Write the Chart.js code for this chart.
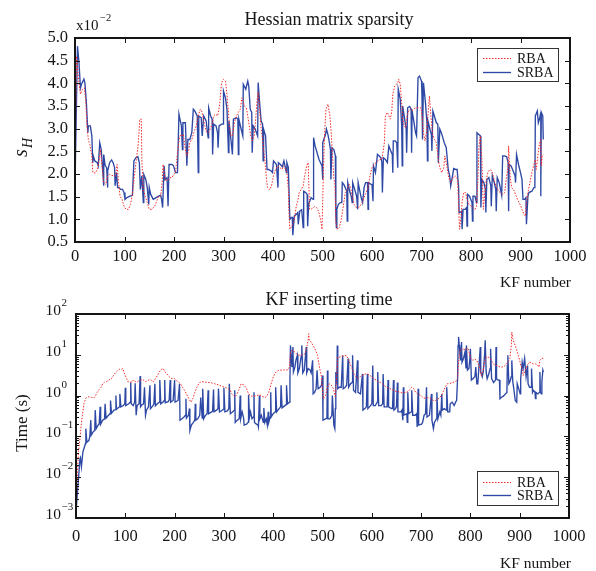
<!DOCTYPE html>
<html>
<head>
<meta charset="utf-8">
<script src="https://cdn.jsdelivr.net/npm/chart.js@4.4.1/dist/chart.umd.min.js"></script>
<style>
  body { margin: 0; background: #fff; }
  #wrap { position: relative; width: 596px; height: 571px; }
  canvas { position: absolute; left: 0; }
  #sparsity { top: 0; }
  #kftime { top: 290px; }
</style>
</head>
<body>
<div id="wrap">
  <canvas id="sparsity" width="596" height="290"></canvas>
  <canvas id="kftime" width="596" height="281"></canvas>
</div>
<script>
// [KF number, value] pairs

// Hessian sparsity (x10^-2)
const sparsityRba = [
  [0,1.90],[3,4.60],[8,4.01],[11,3.76],[15,3.87],[19,3.90],[22,3.57],[24,3.06],[27,2.76],[30,2.65],
  [34,2.40],[36,2.03],[41,2.02],[45,2.10],[49,2.32],[51,2.54],[54,2.25],[58,1.81],[62,1.77],[66,1.96],
  [70,1.99],[74,1.97],[78,1.96],[82,1.96],[85,2.21],[88,1.81],[91,1.51],[95,1.44],[99,1.29],[103,1.22],
  [108,1.22],[112,1.33],[116,1.55],[120,1.96],[124,2.32],[128,2.69],[131,3.21],[134,3.21],[135,2.32],[138,1.66],
  [142,1.51],[146,1.37],[150,1.22],[155,1.22],[161,1.29],[165,1.40],[169,1.51],[173,1.51],[176,1.81],[178,2.21],
  [181,1.96],[184,1.85],[188,1.88],[192,1.92],[196,1.92],[199,1.99],[203,2.03],[207,2.47],[211,2.80],[214,2.87],
  [216,2.84],[219,2.87],[223,2.54],[226,2.40],[230,2.54],[232,2.69],[236,2.76],[240,2.91],[245,3.06],[249,3.28],
  [253,3.43],[256,3.39],[260,3.17],[265,2.94],[269,2.91],[273,2.99],[277,3.10],[280,3.28],[284,3.32],[288,3.28],
  [292,3.50],[296,4.01],[300,4.09],[304,4.05],[307,3.76],[310,3.36],[312,3.06],[315,2.84],[318,2.84],[322,3.13],
  [326,3.28],[330,3.36],[334,3.43],[337,3.68],[339,3.65],[342,3.50],[346,3.46],[349,3.28],[353,2.99],[355,2.84],
  [358,2.73],[362,2.84],[365,3.21],[368,3.65],[370,3.80],[373,3.43],[376,2.99],[379,2.76],[381,2.54],[384,2.25],
  [387,1.88],[389,1.70],[393,1.65],[397,1.74],[401,1.96],[405,2.10],[410,2.18],[414,2.14],[418,2.10],[422,2.18],
  [426,2.10],[428,2.03],[431,1.66],[432,1.22],[434,0.78],[438,0.85],[442,0.93],[445,1.15],[447,1.29],[450,1.40],
  [453,1.59],[457,1.66],[461,1.74],[464,1.96],[468,2.18],[471,2.25],[474,1.22],[477,1.22],[484,1.28],[488,1.26],
  [492,1.18],[496,1.00],[499,0.78],[502,2.10],[504,2.84],[507,3.43],[511,3.54],[515,3.28],[518,2.84],[521,2.25],
  [523,1.88],[525,1.81],[527,0.93],[530,0.78],[534,0.82],[538,1.00],[542,1.29],[546,1.59],[550,1.66],[554,1.77],
  [557,1.70],[560,1.51],[564,1.33],[568,1.26],[572,1.26],[576,1.29],[580,1.37],[584,1.48],[588,1.59],[592,1.70],
  [596,1.96],[600,2.14],[604,2.21],[608,2.25],[612,2.29],[616,2.32],[620,2.32],[625,2.69],[627,3.28],[631,3.36],
  [634,3.28],[637,3.21],[640,3.39],[642,3.76],[646,3.94],[649,3.98],[652,4.01],[654,4.09],[657,3.98],[660,3.57],
  [662,3.21],[665,3.06],[668,3.02],[671,3.28],[674,3.39],[677,3.43],[680,3.39],[684,3.43],[688,3.46],[691,3.46],
  [695,3.46],[699,3.46],[701,3.28],[704,2.91],[707,2.73],[711,2.99],[714,3.43],[716,3.72],[719,3.28],[722,2.91],
  [726,2.76],[730,2.69],[734,2.32],[737,2.14],[741,2.03],[745,2.14],[747,2.40],[750,2.25],[755,1.92],[759,1.81],
  [764,1.92],[768,1.96],[773,1.88],[776,1.00],[777,0.78],[780,1.07],[782,1.37],[785,1.59],[789,1.59],[792,1.44],
  [796,1.33],[800,1.29],[804,1.26],[808,1.22],[811,1.29],[814,1.88],[816,2.62],[819,2.84],[822,2.32],[825,1.22],
  [828,1.59],[831,1.88],[834,2.03],[838,2.10],[842,2.07],[845,1.96],[848,1.81],[852,1.70],[856,1.62],[859,1.59],
  [864,1.55],[868,1.59],[872,1.96],[875,2.14],[876,2.62],[879,1.96],[882,1.70],[886,1.66],[890,1.55],[894,1.44],
  [899,1.33],[903,1.22],[907,1.11],[910,1.07],[912,1.37],[915,1.59],[919,1.81],[923,2.03],[927,2.21],[930,2.32],
  [932,2.10],[935,2.40],[938,2.65],[941,2.76],[942,2.18],[944,2.40],[947,2.43]
];

const sparsitySrba = [
  [0,1.73],[5,4.82],[8,4.46],[11,3.90],[13,3.98],[18,4.09],[20,4.01],[23,3.57],[26,2.91],[27,3.06],
  [31,3.06],[34,2.84],[36,2.25],[37,2.40],[40,2.29],[45,2.25],[47,2.18],[50,2.69],[53,2.54],[55,2.25],
  [58,1.74],[58,2.43],[61,2.18],[64,2.14],[66,1.70],[66,2.07],[70,2.25],[74,2.31],[77,2.25],[80,2.14],
  [81,1.74],[84,2.03],[86,1.70],[89,1.70],[92,1.66],[96,1.66],[99,1.59],[101,1.44],[105,1.48],[111,1.51],
  [116,1.53],[119,2.29],[123,2.36],[127,2.38],[130,2.25],[132,1.66],[135,1.96],[138,1.37],[139,1.99],[143,1.88],
  [146,1.70],[149,1.33],[150,1.70],[153,1.55],[158,1.44],[164,1.48],[169,1.51],[173,1.53],[175,1.44],[177,1.26],
  [180,2.18],[182,1.88],[186,1.92],[188,1.29],[190,2.21],[196,2.21],[199,2.18],[203,2.03],[207,2.03],[210,3.32],
  [212,3.21],[215,3.06],[217,2.54],[218,3.13],[223,3.13],[226,2.18],[228,2.76],[232,2.76],[236,2.91],[239,3.43],
  [242,3.39],[247,3.28],[249,2.03],[250,3.28],[255,3.24],[257,2.84],[260,3.28],[265,3.17],[269,2.80],[270,3.46],
  [274,3.28],[277,3.21],[278,2.43],[280,3.10],[285,3.06],[288,2.91],[289,2.58],[291,3.06],[296,3.10],[299,3.10],
  [300,3.83],[304,3.68],[307,3.43],[310,2.47],[311,3.17],[315,2.76],[318,2.43],[320,3.21],[326,3.24],[329,3.21],
  [330,2.43],[331,3.21],[335,3.02],[339,2.84],[340,3.98],[345,3.87],[349,4.05],[351,3.94],[354,3.43],[357,3.36],
  [358,2.47],[360,3.06],[364,2.99],[369,2.84],[370,4.02],[373,3.57],[376,3.17],[379,3.10],[380,2.29],[381,2.99],
  [385,2.84],[388,2.10],[391,2.10],[396,2.07],[399,2.03],[401,2.29],[404,2.25],[407,2.21],[410,1.70],[411,2.25],
  [415,2.21],[419,2.16],[422,2.29],[425,2.14],[427,2.03],[428,2.25],[431,2.14],[434,1.00],[437,1.04],[439,1.04],
  [440,0.65],[443,1.07],[447,1.11],[450,1.15],[451,0.89],[454,1.18],[458,1.21],[461,0.82],[462,1.62],[466,1.59],
  [469,1.55],[470,0.85],[472,1.33],[477,1.48],[481,1.44],[482,2.80],[485,2.62],[488,2.51],[490,2.43],[493,2.32],
  [496,2.25],[499,2.18],[500,1.88],[501,2.69],[506,2.87],[508,2.99],[511,2.87],[514,2.69],[516,2.54],[517,1.88],
  [519,2.58],[523,2.54],[526,2.40],[527,1.11],[528,0.82],[529,1.22],[532,1.33],[536,1.37],[539,1.37],[540,1.81],
  [543,1.77],[546,1.70],[549,1.62],[550,0.96],[551,1.81],[555,1.62],[558,1.51],[560,1.37],[561,1.81],[565,1.66],
  [569,1.51],[571,1.22],[572,1.81],[576,1.59],[579,1.44],[581,1.37],[584,1.70],[587,1.81],[591,1.81],[592,1.22],
  [593,1.81],[598,1.77],[600,1.77],[602,1.40],[603,2.18],[607,2.03],[611,2.43],[614,2.40],[618,2.36],[620,2.25],
  [621,1.59],[623,2.36],[627,2.32],[631,2.25],[634,2.62],[638,2.51],[641,2.43],[642,2.03],[643,2.73],[647,2.73],
  [650,2.69],[652,2.14],[653,3.87],[657,3.65],[660,3.06],[661,2.18],[662,3.50],[666,3.21],[669,2.99],[670,2.47],
  [672,3.46],[676,3.49],[679,3.43],[680,2.47],[681,3.39],[685,3.13],[688,2.91],[690,2.84],[693,4.13],[696,4.16],
  [700,4.05],[701,3.72],[702,2.76],[704,4.01],[708,3.57],[711,3.13],[712,2.29],[713,3.17],[717,2.99],[720,2.87],
  [721,2.51],[723,3.39],[727,3.24],[730,3.13],[733,3.10],[734,2.25],[737,2.99],[740,2.91],[742,2.84],[746,2.69],
  [750,2.58],[754,2.10],[757,1.96],[759,1.74],[762,1.92],[765,2.12],[769,2.10],[772,2.10],[775,1.70],[776,1.15],
  [779,1.16],[781,1.18],[782,0.78],[784,1.22],[788,1.22],[791,1.26],[792,0.85],[793,1.55],[797,1.51],[802,1.37],
  [803,0.96],[804,1.51],[808,1.51],[811,1.37],[812,2.91],[816,2.87],[819,2.84],[820,1.26],[822,1.88],[826,1.81],
  [829,1.66],[830,1.15],[832,1.88],[836,1.92],[840,1.74],[841,1.29],[843,1.96],[847,1.81],[850,1.66],[851,1.18],
  [853,1.92],[857,1.81],[859,1.70],[862,1.53],[864,2.40],[868,2.40],[872,2.38],[875,2.25],[876,1.18],[877,2.21],
  [881,2.18],[885,2.07],[889,1.96],[890,1.81],[892,2.43],[896,2.21],[900,2.03],[903,1.88],[905,1.44],[908,1.44],
  [911,1.48],[912,0.89],[915,1.51],[917,1.59],[923,1.62],[927,1.70],[929,1.70],[930,3.28],[934,3.39],[936,3.13],
  [939,3.24],[941,3.36],[941,1.51],[942,3.36],[945,3.28],[946,2.76]
];

// KF inserting time (s)
const timeRba = [
  [0,0.0014],[3,0.013],[5,0.042],[8,0.087],[11,0.22],[14,0.40],[16,0.63],[20,0.87],[26,0.94],[31,0.91],
  [37,0.89],[39,0.97],[43,1.2],[47,1.4],[51,1.6],[54,1.95],[58,2.15],[62,2.2],[66,2.33],[69,2.6],
  [72,2.6],[74,2.9],[77,3.2],[80,3.6],[84,4.0],[88,4.4],[92,4.4],[95,4.6],[97,3.8],[100,3.1],
  [103,2.6],[105,2.2],[110,2.15],[114,2.15],[116,2.4],[120,2.2],[124,2.15],[128,2.33],[133,2.45],[137,2.4],
  [141,2.2],[145,2.33],[149,2.45],[153,2.4],[157,2.15],[161,2.6],[165,3.1],[169,3.8],[173,4.4],[177,4.6],
  [180,3.9],[184,3.4],[188,3.0],[192,2.7],[196,2.6],[200,2.6],[204,2.33],[208,2.15],[212,1.95],[216,1.6],
  [220,1.35],[224,1.1],[229,0.84],[233,0.69],[237,0.84],[241,1.2],[245,1.6],[249,1.95],[252,2.15],[256,2.2],
  [261,2.15],[268,2.1],[275,2.05],[281,1.95],[288,1.85],[295,1.7],[302,1.6],[309,1.48],[313,1.35],[316,1.1],
  [322,0.93],[326,1.05],[330,1.35],[335,1.95],[341,1.8],[346,1.48],[350,1.1],[356,0.97],[361,0.97],[367,1.0],
  [372,1.05],[377,0.97],[383,0.89],[387,0.97],[391,1.2],[395,1.8],[399,2.6],[403,3.4],[407,3.9],[412,4.2],
  [418,4.2],[423,4.3],[429,4.25],[433,5.0],[435,11.7],[438,12.9],[444,11.7],[449,10.0],[455,9.7],[460,10.0],
  [465,10.7],[471,22.6],[472,33],[473,22.6],[477,20.5],[481,17],[486,12.9],[490,9.7],[492,6.6],[495,4.2],
  [498,2.9],[500,1.2],[502,0.84],[506,1.0],[510,1.6],[514,1.95],[518,1.8],[522,1.48],[526,0.93],[529,3.1],
  [531,8.8],[535,8.8],[539,9.3],[544,9.3],[548,9.7],[552,8.1],[556,6.0],[560,4.6],[564,3.4],[568,2.9],
  [572,2.6],[576,2.9],[580,3.1],[584,3.3],[588,3.4],[592,3.4],[596,3.1],[600,2.9],[604,2.6],[609,2.4],
  [613,2.15],[617,2.1],[621,1.95],[625,1.8],[629,1.6],[633,1.55],[637,1.48],[641,1.4],[645,1.35],[649,1.26],
  [653,1.26],[657,1.2],[661,1.17],[665,1.2],[670,1.2],[674,1.26],[677,1.4],[681,1.6],[685,1.48],[689,1.2],
  [693,1.1],[697,1.05],[701,0.97],[705,0.87],[709,0.87],[713,0.89],[717,0.87],[721,0.81],[725,0.76],[729,0.76],
  [733,0.81],[737,0.87],[741,1.0],[745,1.26],[749,1.6],[753,1.95],[757,1.95],[764,2.1],[770,2.2],[774,2.6],
  [776,6.6],[779,12.9],[783,14.1],[787,13.6],[791,13.6],[795,14.7],[798,10.7],[801,8.1],[805,7.3],[809,7.8],
  [813,7.3],[817,5.5],[820,4.2],[822,3.1],[825,3.8],[829,6.6],[832,8.8],[836,8.8],[840,8.1],[844,6.9],
  [848,5.7],[852,5.5],[856,5.3],[860,5.0],[864,5.0],[868,5.2],[872,5.7],[876,6.6],[880,8.1],[883,17],
  [884,36],[886,25],[888,20.5],[891,17],[894,12.9],[897,9.7],[900,7.3],[902,5.5],[905,4.6],[907,3.1],
  [910,3.8],[913,4.6],[916,5.7],[920,6.6],[924,6.3],[928,6.0],[932,6.0],[936,5.7],[939,5.0],[941,7.3],
  [945,8.3],[948,8.1]
];

const timeSrba = [
  [0,0.0014],[3,0.0044],[5,0.009],[8,0.028],[9,0.030],[11,0.018],[14,0.042],[16,0.050],[19,0.066],[20,0.155],
  [22,0.072],[26,0.079],[28,0.098],[30,0.25],[31,0.107],[35,0.13],[38,0.14],[39,0.44],[41,0.155],[45,0.19],
  [47,0.20],[49,0.53],[50,0.20],[54,0.25],[58,0.27],[59,0.63],[61,0.28],[65,0.32],[69,0.36],[70,0.76],
  [72,0.37],[77,0.44],[80,0.455],[81,1.0],[82,0.46],[88,0.53],[89,1.1],[91,0.53],[96,0.57],[99,0.63],
  [100,1.55],[101,0.57],[107,0.63],[110,0.69],[111,2.1],[112,0.63],[116,0.57],[119,0.69],[120,2.0],[122,0.33],
  [124,0.57],[128,0.63],[130,3.0],[131,0.53],[134,0.60],[137,0.63],[139,1.6],[141,0.33],[143,0.44],[147,0.53],
  [150,1.8],[151,0.48],[156,0.57],[158,0.63],[160,1.95],[161,0.56],[165,0.63],[169,0.69],[170,2.4],[172,0.63],
  [176,0.69],[179,0.76],[180,2.4],[181,0.67],[187,0.71],[189,0.78],[191,2.4],[192,0.69],[197,0.76],[200,2.4],
  [201,0.69],[207,0.76],[210,1.95],[211,0.25],[215,0.27],[219,0.30],[222,0.33],[223,0.84],[224,0.28],[228,0.33],
  [230,0.48],[231,0.14],[234,0.19],[238,0.22],[241,0.25],[242,0.63],[243,0.25],[247,0.27],[251,0.33],[253,0.9],
  [256,0.28],[257,1.48],[259,0.27],[262,0.32],[266,0.36],[268,1.35],[269,0.36],[275,0.40],[277,0.41],[279,1.4],
  [280,0.40],[285,0.44],[288,0.48],[289,1.48],[291,0.40],[296,0.43],[299,0.46],[300,1.55],[302,0.40],[307,0.42],
  [310,0.48],[311,1.95],[313,0.36],[318,0.40],[321,0.44],[322,1.35],[323,0.22],[327,0.25],[331,0.27],[333,1.0],
  [334,0.27],[337,0.40],[340,0.28],[341,0.19],[346,0.20],[349,0.22],[350,1.05],[352,0.30],[354,0.40],[357,0.27],
  [360,0.30],[361,1.2],[362,0.22],[366,0.20],[369,0.19],[370,0.17],[372,1.0],[373,0.27],[376,0.33],[380,0.22],
  [381,0.50],[383,0.22],[386,0.27],[388,0.19],[390,0.40],[391,0.22],[394,0.30],[395,1.2],[396,0.30],[400,0.36],
  [404,0.40],[405,1.6],[407,0.40],[412,0.48],[415,0.53],[416,1.8],[418,0.50],[423,0.56],[426,0.60],[427,1.8],
  [429,0.63],[433,0.69],[434,2.6],[435,17],[437,7.3],[438,5.0],[440,15.5],[441,3.8],[444,5.0],[446,7.3],
  [449,9.7],[450,3.6],[453,4.6],[457,9.7],[458,17],[460,3.6],[463,4.2],[465,8.1],[467,15.5],[468,3.6],
  [471,4.6],[475,4.2],[477,3.6],[480,7.3],[481,1.1],[484,1.2],[487,1.48],[489,4.2],[491,1.48],[495,1.6],
  [498,1.8],[500,3.1],[501,0.25],[504,0.26],[509,0.28],[510,4.1],[511,0.27],[515,0.27],[519,0.33],[520,1.0],
  [523,0.19],[525,0.155],[526,0.48],[527,3.8],[529,1.95],[530,17],[531,1.48],[534,1.6],[538,1.6],[541,9.7],
  [542,1.48],[546,1.6],[549,1.8],[552,8.1],[553,1.6],[557,1.95],[560,2.1],[561,9.7],[563,1.35],[567,1.2],
  [571,7.3],[572,1.2],[577,1.1],[581,3.4],[582,0.44],[586,0.48],[589,0.53],[591,3.4],[592,0.48],[597,0.56],
  [600,0.63],[602,5.5],[603,0.57],[607,0.57],[611,0.69],[612,3.8],[614,0.57],[619,0.57],[622,0.63],[623,3.4],
  [625,0.53],[631,0.53],[633,2.4],[634,0.53],[640,0.48],[642,0.48],[644,2.4],[645,0.44],[648,0.48],[650,0.53],
  [652,2.1],[653,0.40],[659,0.40],[661,0.44],[663,0.25],[664,1.6],[665,0.33],[671,0.36],[672,0.22],[673,1.2],
  [675,0.36],[680,0.40],[681,1.35],[683,0.33],[688,0.33],[691,0.36],[692,0.17],[694,1.48],[695,0.19],[701,0.20],
  [703,0.22],[706,0.33],[709,0.36],[711,1.6],[712,0.30],[717,0.33],[721,1.1],[722,0.25],[725,0.155],[727,0.22],
  [731,0.27],[732,1.2],[734,0.27],[738,0.40],[740,0.33],[742,1.1],[743,0.44],[747,0.48],[751,0.44],[752,1.6],
  [754,0.40],[758,0.40],[759,0.63],[763,0.69],[767,0.57],[770,0.69],[772,0.76],[774,2.6],[775,17],[776,27.5],
  [778,14.1],[780,7.3],[781,17],[782,20.5],[783,6.6],[786,8.1],[789,11.7],[791,4.6],[792,17],[794,4.2],
  [797,4.6],[799,8.1],[800,14.1],[802,2.4],[805,2.6],[809,2.9],[811,5.0],[813,1.95],[815,1.95],[818,6.6],
  [820,15.5],[821,3.8],[824,2.9],[826,3.8],[829,10.7],[830,22.6],[832,3.8],[834,2.6],[837,3.3],[840,4.6],
  [841,14.1],[843,2.6],[847,2.1],[851,2.4],[852,15.5],[853,2.6],[856,2.4],[859,2.4],[860,0.84],[863,0.91],
  [867,0.97],[871,1.1],[874,1.2],[875,5.5],[876,9.7],[878,1.95],[880,2.15],[883,2.9],[884,7.3],[886,2.15],
  [888,1.48],[891,0.76],[894,0.69],[895,1.95],[898,1.48],[901,1.1],[902,2.6],[905,6.6],[907,4.6],[910,8.1],
  [913,2.9],[916,5.5],[917,1.95],[920,1.6],[923,1.6],[924,4.6],[926,1.2],[928,1.35],[931,1.2],[932,0.84],
  [933,1.2],[937,1.1],[940,1.2],[941,3.8],[942,1.2],[944,1.1],[945,2.15],[947,4.2],[948,3.8]
];

const seriesNames = ['RBA', 'SRBA'];
const kfTicks = { min: 0, max: 1000, step: 100 };
const sparsityTicks = { min: 0.5, max: 5.0, step: 0.5 };
const timeDecades = [-3, -2, -1, 0, 1, 2];

const RED = 'rgb(245, 40, 40)';
const BLUE = 'rgb(45, 72, 165)';
const INK = '#151515';
const SERIF = '"Liberation Serif", "Times New Roman", serif';

function pts(pairs) {
    return pairs.map(p => ({ x: p[0], y: p[1] }));
}

function say(ctx, s, x, y, size, align, style) {
    ctx.font = (style || '') + ' ' + size + 'px ' + SERIF;
    ctx.textAlign = align || 'left';
    ctx.textBaseline = 'alphabetic';
    ctx.fillStyle = INK;
    ctx.fillText(s, x, y);
}

// box, inward ticks, legend and the texts MATLAB puts around the axes
const framePlugin = {
    id: 'frame',
    afterDatasetsDraw(chart, args, o) {
        const { ctx, chartArea: a, scales } = chart;
        const xs = scales.x, ys = scales.y;
        ctx.save();

        ctx.strokeStyle = INK;
        ctx.lineWidth = 1;
        ctx.beginPath();
        xs.ticks.forEach(t => {
            const px = Math.round(xs.getPixelForValue(t.value)) + 0.5;
            ctx.moveTo(px, a.bottom); ctx.lineTo(px, a.bottom - 5);
            ctx.moveTo(px, a.top); ctx.lineTo(px, a.top + 5);
        });
        if (o.log) {
            timeDecades.forEach((e, i) => {
                const steps = i < timeDecades.length - 1 ? 9 : 1;
                for (let m = 1; m <= steps; m++) {
                    const py = Math.round(ys.getPixelForValue(m * Math.pow(10, e))) + 0.5;
                    const len = m === 1 ? 5 : 3;
                    ctx.moveTo(a.left, py); ctx.lineTo(a.left + len, py);
                    ctx.moveTo(a.right, py); ctx.lineTo(a.right - len, py);
                }
            });
        } else {
            ys.ticks.forEach(t => {
                const py = Math.round(ys.getPixelForValue(t.value)) + 0.5;
                ctx.moveTo(a.left, py); ctx.lineTo(a.left + 5, py);
                ctx.moveTo(a.right, py); ctx.lineTo(a.right - 5, py);
            });
        }
        ctx.stroke();

        ctx.lineWidth = 2;
        ctx.strokeRect(a.left, a.top, a.right - a.left, a.bottom - a.top);

        // legend
        const L = o.legend;
        ctx.fillStyle = '#fff';
        ctx.fillRect(L.x, L.y, L.w, L.h);
        ctx.lineWidth = 1;
        ctx.strokeStyle = '#333';
        ctx.strokeRect(L.x + 0.5, L.y + 0.5, L.w, L.h);
        chart.data.datasets.forEach((ds, i) => {
            const ly = L.rows[i] + 0.5;
            ctx.beginPath();
            ctx.strokeStyle = ds.borderColor;
            ctx.lineWidth = ds.borderWidth;
            ctx.setLineDash(ds.borderDash || []);
            ctx.moveTo(L.x + 6, ly); ctx.lineTo(L.x + 34, ly);
            ctx.stroke();
            ctx.setLineDash([]);
            say(ctx, ds.label, L.x + 40, L.rows[i] + 5, 14);
        });

        // titles and axis names
        say(ctx, o.title, o.titleX, o.titleY, 18, 'center');
        say(ctx, 'KF number', 571, o.xNameY, 15.5, 'right');

        if (o.log) {
            timeDecades.forEach(e => {
                const py = ys.getPixelForValue(Math.pow(10, e));
                say(ctx, '10', 61, py + 1, 15.5, 'right');
                say(ctx, String(e).replace('-', '\u2212'), 61.5, py - 8, 11);
            });
            ctx.save();
            ctx.translate(27, o.yNameY);
            ctx.rotate(-Math.PI / 2);
            say(ctx, 'Time (s)', 0, 0, 17, 'center');
            ctx.restore();
        } else {
            say(ctx, 'x10', 76, 30, 15);
            say(ctx, '\u22122', 100, 21, 10.5);
            ctx.save();
            ctx.translate(27, o.yNameY);
            ctx.rotate(-Math.PI / 2);
            say(ctx, 's', 0, 0, 20, 'left', 'italic');
            say(ctx, 'H', 9, 5, 14, 'left', 'italic');
            ctx.restore();
        }
        ctx.restore();
    }
};

function lineSets(rba, srba) {
    return [
        { label: seriesNames[0], data: pts(rba), borderColor: RED, borderWidth: 1, borderDash: [1.5, 1.5] },
        { label: seriesNames[1], data: pts(srba), borderColor: BLUE, borderWidth: 1.35 }
    ];
}

const tickFont = { family: SERIF, size: 16.5 };

const kfAxis = (pad, height) => ({
    type: 'linear',
    min: kfTicks.min,
    max: kfTicks.max,
    ticks: { stepSize: kfTicks.step, padding: pad, font: tickFont, color: INK, maxRotation: 0,
             autoSkip: false, callback: v => String(v) },
    grid: { display: false, drawTicks: false },
    border: { display: false },
    afterFit: s => { s.height = height; }
});

const common = {
    responsive: false,
    animation: false,
    elements: { point: { radius: 0 }, line: { tension: 0 } },
    events: []
};

document.addEventListener('DOMContentLoaded', function () {
    /* Hessian matrix sparsity */
    new Chart(document.getElementById('sparsity'), {
        type: 'line',
        data: { datasets: lineSets(sparsityRba, sparsitySrba) },
        options: Object.assign({}, common, {
            layout: { padding: { top: 38, right: 26, bottom: 0, left: 0 } },
            plugins: {
                legend: { display: false },
                tooltip: { enabled: false },
                frame: {
                    title: 'Hessian matrix sparsity', titleX: 329, titleY: 25,
                    xNameY: 287, yNameY: 157,
                    legend: { x: 477, y: 48, w: 81, h: 33, rows: [58, 72] }
                }
            },
            scales: {
                x: kfAxis(5, 48),
                y: {
                    min: sparsityTicks.min,
                    max: sparsityTicks.max,
                    ticks: { stepSize: sparsityTicks.step, padding: 7, font: tickFont, color: INK,
                             autoSkip: false, callback: v => v.toFixed(1) },
                    grid: { display: false, drawTicks: false },
                    border: { display: false },
                    afterFit: s => { s.width = 75; }
                }
            }
        }),
        plugins: [framePlugin]
    });

    /* KF inserting time */
    new Chart(document.getElementById('kftime'), {
        type: 'line',
        data: { datasets: lineSets(timeRba, timeSrba) },
        options: Object.assign({}, common, {
            layout: { padding: { top: 24, right: 27, bottom: 0, left: 0 } },
            plugins: {
                legend: { display: false },
                tooltip: { enabled: false },
                frame: {
                    log: true,
                    title: 'KF inserting time', titleX: 329, titleY: 15,
                    xNameY: 278, yNameY: 133,
                    legend: { x: 477, y: 181, w: 81, h: 34, rows: [192, 205] }
                }
            },
            scales: {
                x: kfAxis(9, 53),
                y: {
                    type: 'logarithmic',
                    min: Math.pow(10, timeDecades[0]),
                    max: Math.pow(10, timeDecades[timeDecades.length - 1]),
                    ticks: { display: false },
                    grid: { display: false, drawTicks: false },
                    border: { display: false },
                    afterFit: s => { s.width = 76; }
                }
            }
        }),
        plugins: [framePlugin]
    });
});
</script>
</body>
</html>
